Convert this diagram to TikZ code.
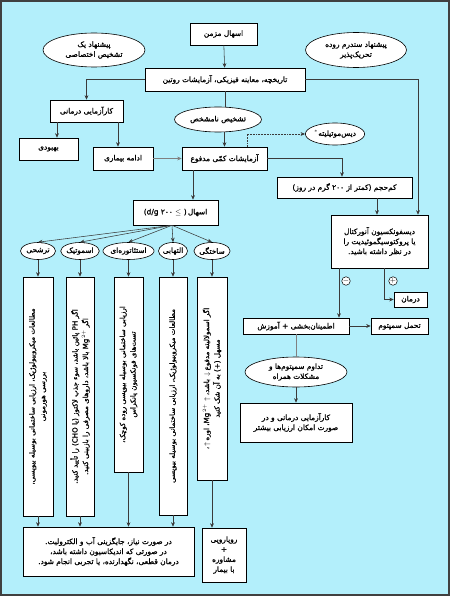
\documentclass[tikz,border=0pt]{standalone}
\usepackage{fontspec}
\usetikzlibrary{shapes.geometric,arrows.meta,calc}
\newfontfamily\fa[Script=Arabic,FakeBold=1.1]{DejaVu Sans}
\TeXXeTstate=1
\newcommand{\prs}[1]{\beginR#1\endR}
\newcommand{\ltr}[1]{\beginL#1\endL{}}
\definecolor{bg}{HTML}{B3EFFB}
\definecolor{frm}{HTML}{404040}
\definecolor{ln}{HTML}{3A3A3A}
\begin{document}
\begin{tikzpicture}[x=1pt,y=-1pt,
  txt/.style={font=\fa\fontsize{7.4}{10}\selectfont},
  box/.style={txt, draw=black, fill=white, line width=0.6pt, inner sep=1pt, align=center},
  ell/.style={txt, ellipse, draw=black, fill=white, line width=0.6pt, inner sep=0pt, align=center},
  vbox/.style={box, rotate=90, font=\fa\fontsize{7.1}{10.5}\selectfont},
  arr/.style={draw=ln, line width=0.55pt, -{Stealth[length=4.5pt,width=3.8pt]}},
  lin/.style={draw=ln, line width=0.55pt},
  sgn/.style={circle, draw=black, fill=white, line width=0.5pt, inner sep=0pt, minimum size=8.5pt, font=\fontsize{7}{7}\selectfont}]
\useasboundingbox (0,0) rectangle (450,596);
\fill[bg] (0,0) rectangle (450,596);
\draw[frm, line width=2.2pt] (1.1,1.1) rectangle (448.9,594.9);

% helper x positions
\foreach \xx in {57,118,172,193,247,339,342,377,384,418} {\coordinate (x\xx) at (\xx,0);}

\node[box, minimum width=67, minimum height=22] (chronic) at (223.5,34) {\prs{اسهال مزمن}};
\node[ell, minimum width=102, minimum height=34] (elA) at (94,50) {\prs{پیشنهاد یک}\\\prs{تشخیص اختصاصی}};
\node[ell, minimum width=101, minimum height=35] (elB) at (356,50) {\prs{پیشنهاد سندرم روده}\\\prs{تحریک‌پذیر}};
\node[box, minimum width=160, minimum height=23] (hist) at (225,79.5) {\prs{تاریخچه، معاینه فیزیکی، آزمایشات روتین}};
\node[box, minimum width=73, minimum height=22] (trial) at (86.5,111) {\prs{کارآزمایی درمانی}};
\node[box, minimum width=59, minimum height=22] (better) at (48.5,149) {\prs{بهبودی}};
\node[box, minimum width=60, minimum height=23] (cont) at (123,158.5) {\prs{ادامه بیماری}};
\node[ell, minimum width=87, minimum height=25] (unk) at (218,119.5) {\prs{تشخیص نامشخص}};
\node[box, minimum width=85, minimum height=23] (stool) at (224.5,158.5) {\prs{آزمایشات کمّی مدفوع}};
\node[ell, minimum width=56, minimum height=22] (dysm) at (335,134) {\prs{دیس‌موتیلیته$^{*}$}};
\node[box, minimum width=135, minimum height=21] (low) at (344.5,187.5) {\prs{کم‌حجم (کمتر از ۲۰۰ گرم در روز)}};
\node[box, minimum width=85, minimum height=25] (diar) at (175.5,212.5) {\ltr{(d/g ۲۰۰ $\leq$ (}\,\prs{اسهال}};

% five ellipses
\node[ell, minimum width=35, minimum height=17] (e1) at (38,251) {\prs{ترشحی}};
\node[ell, minimum width=38, minimum height=17] (e2) at (80,251) {\prs{اسموتیک}};
\node[ell, minimum width=48, minimum height=17] (e3) at (128.5,251) {\prs{استئاتوره‌ای}};
\node[ell, minimum width=29, minimum height=17] (e4) at (173,251) {\prs{التهابی}};
\node[ell, minimum width=34, minimum height=17] (e5) at (212,251) {\prs{ساختگی}};

% vertical boxes
\node[vbox, minimum width=239, minimum height=30] (b1) at (38,396.5)
  {\prs{مطالعات میکروبیولوژیک، ارزیابی ساختمانی بوسیله بیوپسی،}\\\prs{بررسی هورمونی}};
\node[vbox, minimum width=239, minimum height=28] (b2) at (80,396.5)
  {\prs{اگر \ltr{PH} پائین باشد، سوء جذب لاکتوز (یا \ltr{CHO}) را تأیید کنید.}\\\prs{اگر \ltr{Mg$^{2+}$} بالا باشد، داروهای مصرفی را بازبینی کنید.}};
\node[vbox, minimum width=195, minimum height=29] (b3) at (128.5,374.5)
  {\prs{ارزیابی ساختمانی بوسیله بیوپسی روده کوچک،}\\\prs{تست‌های فونکسیون پانکراس}};
\node[vbox, minimum width=238, minimum height=28] (b4) at (173,396)
  {\prs{مطالعات میکروبیولوژیک، ارزیابی ساختمانی بوسیله بیوپسی}};
\node[vbox, minimum width=203, minimum height=30] (b5) at (212,378.5)
  {\prs{اگر اسمولالیته مدفوع \ltr{$\downarrow$} باشد، \ltr{Mg$^{2+}$ $\uparrow$}، اوره \ltr{$\uparrow$}،}\\\prs{مسهل (+) به آن شک کنید}};

\node[box, minimum width=171, minimum height=49] (bottom) at (108.5,551.5)
  {\prs{در صورت نیاز، جایگزینی آب و الکترولیت.}\\\prs{در صورتی که اندیکاسیون داشته باشد،}\\\prs{درمان قطعی، نگهدارنده، یا تجربی انجام شود.}};
\node[box, minimum width=44, minimum height=54] (face) at (224,555)
  {\prs{رویارویی}\\+\\\prs{مشاوره}\\\prs{با بیمار}};

% right side
\node[box, minimum width=97, minimum height=53] (dysf) at (379.5,241.5)
  {\prs{دیسفونکسیون آنورکتال}\\\prs{یا پروکتوسیگموئیدیت را}\\\prs{در نظر داشته باشید.}};
\node[box, minimum width=33, minimum height=15] (treat) at (410.5,299.5) {\prs{درمان}};
\node[box, minimum width=106, minimum height=16] (reas) at (296,326) {\prs{اطمینان‌بخشی + آموزش}};
\node[box, minimum width=57, minimum height=16] (tol) at (399.5,326) {\prs{تحمل سمپتوم}};
\node[ell, minimum width=102, minimum height=30] (pers) at (296,372) {\prs{تداوم سمپتوم‌ها و}\\\prs{مشکلات همراه}};
\node[box, minimum width=112, minimum height=39] (trial2) at (296,422.5)
  {\prs{کارآزمایی درمانی و در}\\\prs{صورت امکان ارزیابی بیشتر}};

% connectors
\draw[arr] (chronic) -- (hist);
\draw[arr] (hist.west) -| (trial.north);
\draw[arr] (hist.east) -| (dysf.north -| x418);
\draw[lin] (hist.south) -- (hist.south |- unk.north);
\draw[arr] (trial.south -| x57) -- (better.north -| x57);
\draw[arr] (trial.south -| x118) -- (cont.north -| x118);
\draw[arr, draw=gray] (cont) -- (stool);
\draw[arr] (unk.south -| stool.north) -- (stool.north);
\draw[arr, densely dotted] (stool.north -| x247) |- (dysm.west);
\draw[arr] (stool.east) -| (low.north -| x342);
\draw[arr] (low.south -| x377) -- (dysf.north -| x377);
\draw[arr] (stool.south -| x193) -- (diar.north -| x193);
\foreach \e in {e1,e2,e3,e4,e5} {\draw[arr] (diar.south -| x172) -- (\e.north);}
\foreach \i in {1,2,3,4,5} {\draw[arr] (e\i) -- (b\i);}
\foreach \i in {1,2,3,4} {\draw[arr] (b\i) -- (b\i |- bottom.north);}
\draw[arr] (b5) -- (b5 |- face.north);
\draw[arr] (dysf.south -| x339) -- (reas.north -| x339);
\draw[arr] (dysf.south -| x384) |- (treat.west);
\node[sgn] (minus) at (346,281) {$-$};
\node[sgn] (plus) at (393,281) {$+$};
\draw[arr] (reas) -- (tol);
\draw[lin, draw=gray] (reas) -- (pers);
\draw[arr] (pers) -- (trial2);
\end{tikzpicture}
\end{document}
